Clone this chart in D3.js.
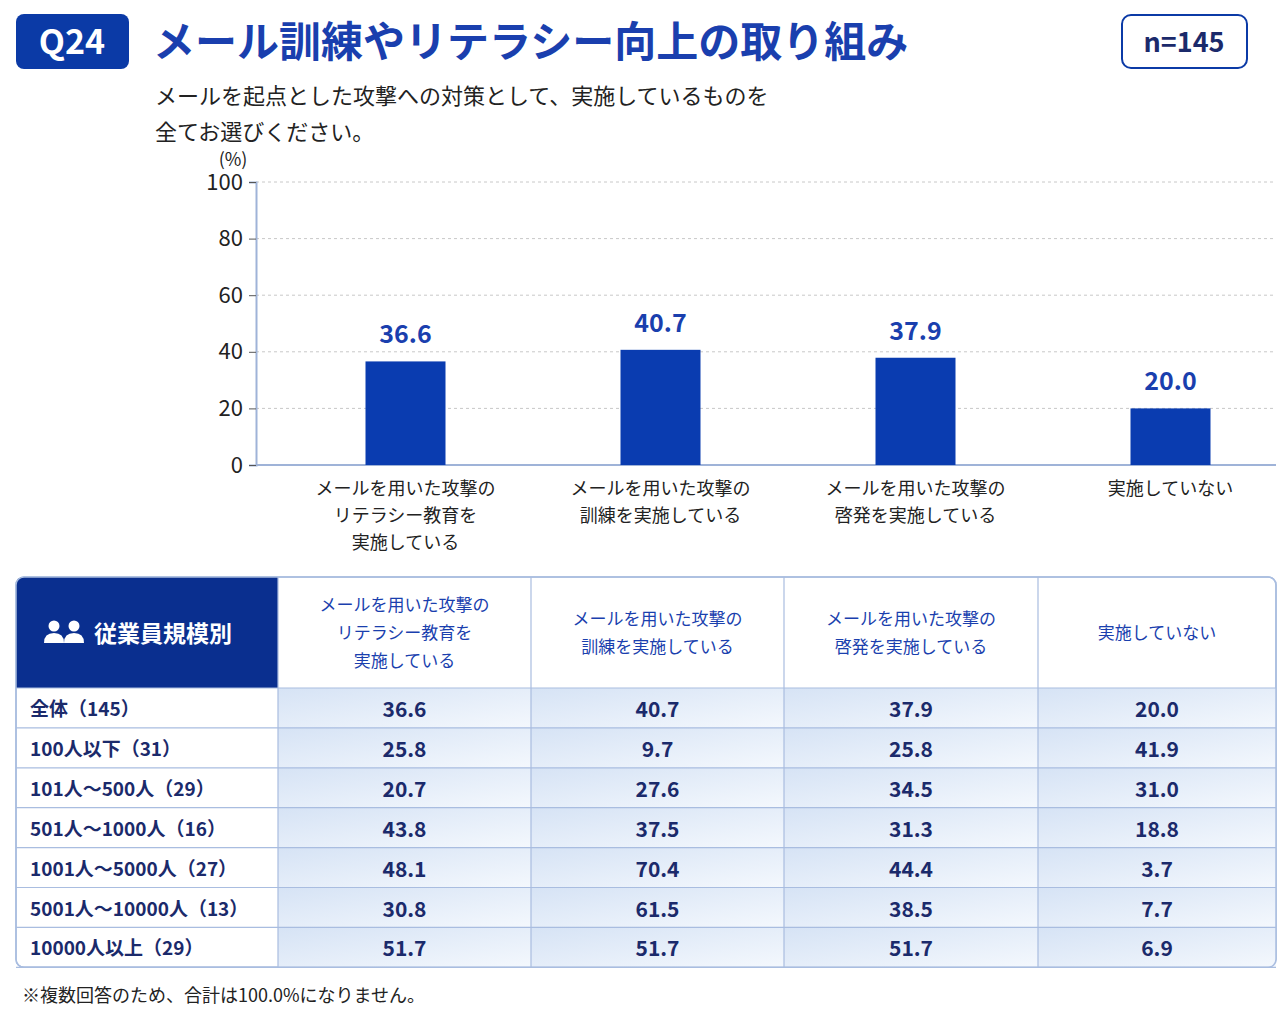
<!DOCTYPE html>
<html><head><meta charset="utf-8">
<script src="https://cdn.jsdelivr.net/npm/d3@7"></script>
<style>body{margin:0;background:#fff}text{font-family:"Noto Sans CJK JP",sans-serif}</style>
</head><body>
<svg id="chart" width="1282" height="1014"></svg>
<script>
// data
var categories = [
  ["メールを用いた攻撃の","リテラシー教育を","実施している"],
  ["メールを用いた攻撃の","訓練を実施している"],
  ["メールを用いた攻撃の","啓発を実施している"],
  ["実施していない"]
];
var overall = [36.6, 40.7, 37.9, 20.0];
var yTicks = [0, 20, 40, 60, 80, 100];
var rowLabels = ["全体（145）","100人以下（31）","101人～500人（29）","501人～1000人（16）","1001人～5000人（27）","5001人～10000人（13）","10000人以上（29）"];
var col1 = [36.6, 25.8, 20.7, 43.8, 48.1, 30.8, 51.7];
var col2 = [40.7, 9.7, 27.6, 37.5, 70.4, 61.5, 51.7];
var col3 = [37.9, 25.8, 34.5, 31.3, 44.4, 38.5, 51.7];
var col4 = [20.0, 41.9, 31.0, 18.8, 3.7, 7.7, 6.9];

var blue = "#0b3aa6", navy = "#1b2a6b";
var svg = d3.select("#chart");

// header
svg.append("rect").attr("x",16).attr("y",14).attr("width",113).attr("height",55).attr("rx",8).attr("fill",blue);
svg.append("text").attr("x",72).attr("y",54).attr("text-anchor","middle").attr("fill","#fff")
  .attr("font-size",34).attr("font-weight","bold").attr("font-family","Roboto").text("Q24");
svg.append("text").attr("x",153).attr("y",57).attr("fill","#1a3fae").attr("font-size",42).attr("font-weight","bold")
  .text("メール訓練やリテラシー向上の取り組み");
svg.append("rect").attr("x",1122).attr("y",15).attr("width",125).attr("height",53).attr("rx",9)
  .attr("fill","#fff").attr("stroke",blue).attr("stroke-width",2);
svg.append("text").attr("x",1184).attr("y",52).attr("text-anchor","middle").attr("fill",navy)
  .attr("font-size",27).attr("font-weight","bold").attr("font-family","Roboto").text("n=145");
svg.append("text").attr("x",155).attr("y",104).attr("font-size",22).attr("fill","#222").text("メールを起点とした攻撃への対策として、実施しているものを");
svg.append("text").attr("x",155).attr("y",140).attr("font-size",22).attr("fill","#222").text("全てお選びください。");
svg.append("text").attr("x",233).attr("y",166).attr("text-anchor","middle").attr("font-size",18).attr("fill","#222").text("(%)");

// bar chart
var y = d3.scaleLinear().domain([0,100]).range([465,182]);
var x = d3.scaleBand().domain(d3.range(4)).range([278,1298]).paddingInner(0);
svg.append("g").selectAll("line").data(yTicks.slice(1)).join("line")
  .attr("x1",256).attr("x2",1276).attr("y1",d=>y(d)).attr("y2",d=>y(d))
  .attr("stroke","#c8c8c8").attr("stroke-dasharray","3,3");
var ax = svg.append("g").attr("transform","translate(256,0)")
  .call(d3.axisLeft(y).tickValues(yTicks).tickSize(7).tickPadding(6));
ax.select(".domain").attr("stroke","#9fb3d8").attr("stroke-width",2);
ax.selectAll(".tick line").attr("stroke","#555");
ax.selectAll(".tick text").attr("font-size",22).attr("fill","#222").attr("font-family","Roboto");
svg.append("line").attr("x1",256).attr("x2",1276).attr("y1",y(0)).attr("y2",y(0)).attr("stroke","#9fb3d8").attr("stroke-width",2);

var bw = 80;
svg.append("g").selectAll("rect").data(overall).join("rect")
  .attr("x",(d,i)=>x(i)+x.bandwidth()/2-bw/2).attr("width",bw)
  .attr("y",d=>y(d)).attr("height",d=>y(0)-y(d)).attr("fill","#0a3cb0");
svg.append("g").selectAll("text").data(overall).join("text")
  .attr("x",(d,i)=>x(i)+x.bandwidth()/2).attr("y",d=>y(d)-18).attr("text-anchor","middle")
  .attr("fill","#1a3fae").attr("font-size",25).attr("font-weight","bold").attr("font-family","Roboto")
  .text(d=>d.toFixed(1));
var cl = svg.append("g").selectAll("text").data(categories).join("text")
  .attr("text-anchor","middle").attr("font-size",18).attr("fill","#222");
cl.each(function(lines,i){
  d3.select(this).selectAll("tspan").data(lines).join("tspan")
    .attr("x",x(i)+x.bandwidth()/2).attr("y",(d,j)=>495+j*27).text(d=>d);
});

// table
var cols = [16,278,531,784,1038,1276];
var hTop = 577, hBot = 688, rh = 39.9;
var cdata = [col1,col2,col3,col4];
var defs = svg.append("defs");
var gr = defs.append("linearGradient").attr("id","cellg").attr("x1",0).attr("x2",1).attr("y1",0).attr("y2",1);
gr.append("stop").attr("offset",0).attr("stop-color","#d6e3f5");
gr.append("stop").attr("offset",1).attr("stop-color","#f4f8fd");
svg.append("rect").attr("x",16).attr("y",hTop).attr("width",1260).attr("height",hBot+7*rh-hTop)
  .attr("rx",8).attr("fill","#fff").attr("stroke","#a9bde0").attr("stroke-width",1.5);
svg.append("path").attr("d",`M16,${hBot} V${hTop+8} Q16,${hTop} 24,${hTop} H278 V${hBot} Z`).attr("fill","#0a2f8f");
for (var c=0;c<4;c++){
  svg.append("g").selectAll("rect").data(cdata[c]).join("rect")
    .attr("x",cols[c+1]).attr("width",cols[c+2]-cols[c+1])
    .attr("y",(d,i)=>hBot+i*rh).attr("height",rh).attr("fill","url(#cellg)");
}
svg.append("g").selectAll("line").data(d3.range(8)).join("line")
  .attr("x1",16).attr("x2",1276).attr("y1",i=>hBot+i*rh).attr("y2",i=>hBot+i*rh)
  .attr("stroke","#a9bde0").attr("stroke-width",1.2);
svg.append("g").selectAll("line").data(cols.slice(1,5)).join("line")
  .attr("x1",d=>d).attr("x2",d=>d).attr("y1",hTop).attr("y2",hBot+7*rh)
  .attr("stroke","#a9bde0").attr("stroke-width",1.2);
svg.append("rect").attr("x",16).attr("y",hTop).attr("width",1260).attr("height",hBot+7*rh-hTop)
  .attr("rx",8).attr("fill","none").attr("stroke","#a9bde0").attr("stroke-width",1.5);

// header first cell: icon + text
var ic = svg.append("g").attr("fill","#fff");
[54,74].forEach(function(px){
  ic.append("circle").attr("cx",px).attr("cy",626).attr("r",5.5);
  ic.append("path").attr("d",`M${px-10},643 Q${px-10},633 ${px},633 Q${px+10},633 ${px+10},643 Z`);
});
svg.append("text").attr("x",94).attr("y",642).attr("fill","#fff").attr("font-size",23).attr("font-weight","bold").text("従業員規模別");
var hl = svg.append("g").selectAll("text").data(categories).join("text")
  .attr("text-anchor","middle").attr("font-size",17).attr("fill","#1a3fae");
hl.each(function(lines,i){
  var cx=(cols[i+1]+cols[i+2])/2, mid=(hTop+hBot)/2, n=lines.length;
  d3.select(this).selectAll("tspan").data(lines).join("tspan")
    .attr("x",cx).attr("y",(d,j)=>mid+6+(j-(n-1)/2)*28).text(d=>d);
});
svg.append("g").selectAll("text").data(rowLabels).join("text")
  .attr("x",30).attr("y",(d,i)=>hBot+i*rh+28).attr("font-size",19).attr("font-weight","bold").attr("fill",navy).text(d=>d);
for (var c=0;c<4;c++){
  svg.append("g").selectAll("text").data(cdata[c]).join("text")
    .attr("x",(cols[c+1]+cols[c+2])/2).attr("y",(d,i)=>hBot+i*rh+29).attr("text-anchor","middle")
    .attr("font-size",21).attr("font-weight","bold").attr("fill",navy).attr("font-family","Roboto")
    .text(d=>d.toFixed(1));
}
svg.append("text").attr("x",22).attr("y",1002).attr("font-size",18).attr("fill","#222").text("※複数回答のため、合計は100.0%になりません。");
</script>
</body></html>
